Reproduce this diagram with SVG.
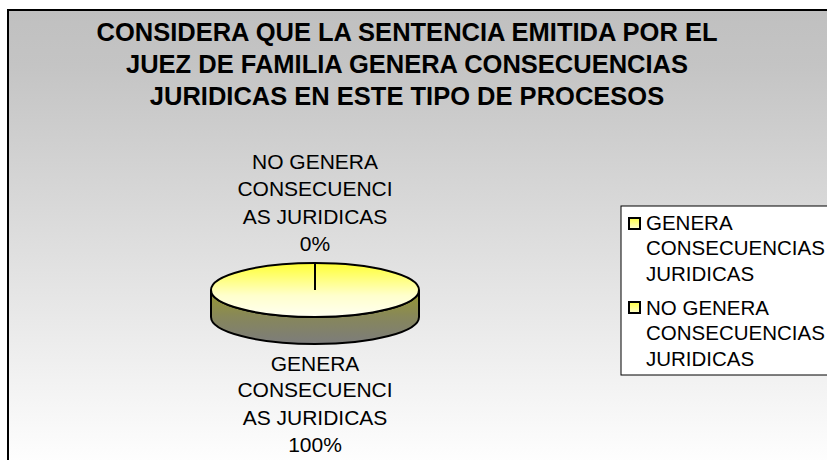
<svg xmlns="http://www.w3.org/2000/svg" width="827" height="460" viewBox="0 0 827 460">
  <defs>
    <linearGradient id="bg" x1="0" y1="10" x2="0" y2="470" gradientUnits="userSpaceOnUse">
      <stop offset="0" stop-color="#c0c0c0"/>
      <stop offset="0.12" stop-color="#c4c4c4"/>
      <stop offset="1" stop-color="#ffffff"/>
    </linearGradient>
    <linearGradient id="topFace" x1="0" y1="263" x2="0" y2="317" gradientUnits="userSpaceOnUse">
      <stop offset="0" stop-color="#ffff33"/>
      <stop offset="0.6" stop-color="#ffffcc"/>
      <stop offset="1" stop-color="#fffff2"/>
    </linearGradient>
    <linearGradient id="side" x1="0" y1="290" x2="0" y2="344" gradientUnits="userSpaceOnUse">
      <stop offset="0" stop-color="#99992e"/>
      <stop offset="0.5" stop-color="#87875a"/>
      <stop offset="1" stop-color="#7c7c7c"/>
    </linearGradient>
    <linearGradient id="swatch" x1="0" y1="0" x2="0" y2="1">
      <stop offset="0" stop-color="#ffff44"/>
      <stop offset="1" stop-color="#ffffd0"/>
    </linearGradient>
  </defs>
  <style>
    .title { font-family: "Liberation Sans", Arial, sans-serif; font-weight: bold; font-size: 25.5px; fill: #000; text-anchor: middle; }
    .lbl { font-family: "Liberation Sans", Arial, sans-serif; font-size: 21px; fill: #000; text-anchor: middle; }
    .leg { font-family: "Liberation Sans", Arial, sans-serif; font-size: 20.5px; fill: #000; }
    .sw { fill: url(#swatch); stroke: #000; stroke-width: 2; }
  </style>
  <rect x="0" y="0" width="827" height="460" fill="#ffffff"/>
  <rect id="chart-area" x="8" y="10" width="830" height="470" fill="url(#bg)" stroke="#000" stroke-width="2"/>

  <g id="title">
    <text class="title" x="407" y="41">CONSIDERA QUE LA SENTENCIA EMITIDA POR EL</text>
    <text class="title" x="407" y="73">JUEZ DE FAMILIA GENERA CONSECUENCIAS</text>
    <text class="title" x="407" y="105">JURIDICAS EN ESTE TIPO DE PROCESOS</text>
  </g>

  <g id="pie">
    <path d="M211,290 L211,317 A104,27 0 0 0 419,317 L419,290 A104,27 0 0 1 211,290 Z" fill="url(#side)" stroke="#000" stroke-width="2"/>
    <ellipse cx="315" cy="290" rx="104" ry="27" fill="url(#topFace)" stroke="#000" stroke-width="2"/>
  </g>

  <g id="connectors">
    <line x1="315" y1="290" x2="315" y2="263" stroke="#000" stroke-width="2"/>
  </g>

  <g id="label-no-genera">
    <text class="lbl" x="315" y="169">NO GENERA</text>
    <text class="lbl" x="315" y="196">CONSECUENCI</text>
    <text class="lbl" x="315" y="224">AS JURIDICAS</text>
    <text class="lbl" x="315" y="251">0%</text>
  </g>

  <g id="label-genera">
    <text class="lbl" x="315" y="371">GENERA</text>
    <text class="lbl" x="315" y="397">CONSECUENCI</text>
    <text class="lbl" x="315" y="425">AS JURIDICAS</text>
    <text class="lbl" x="315" y="452">100%</text>
  </g>

  <g id="legend">
    <rect x="621" y="206" width="220" height="169" fill="#ffffff" stroke="#000" stroke-width="1"/>
    <rect class="sw" x="629" y="218" width="11" height="11"/>
    <text class="leg" x="646" y="230">GENERA</text>
    <text class="leg" x="646" y="255">CONSECUENCIAS</text>
    <text class="leg" x="646" y="281">JURIDICAS</text>
    <rect class="sw" x="629" y="302" width="11" height="11"/>
    <text class="leg" x="646" y="315">NO GENERA</text>
    <text class="leg" x="646" y="340">CONSECUENCIAS</text>
    <text class="leg" x="646" y="366">JURIDICAS</text>
  </g>
</svg>
